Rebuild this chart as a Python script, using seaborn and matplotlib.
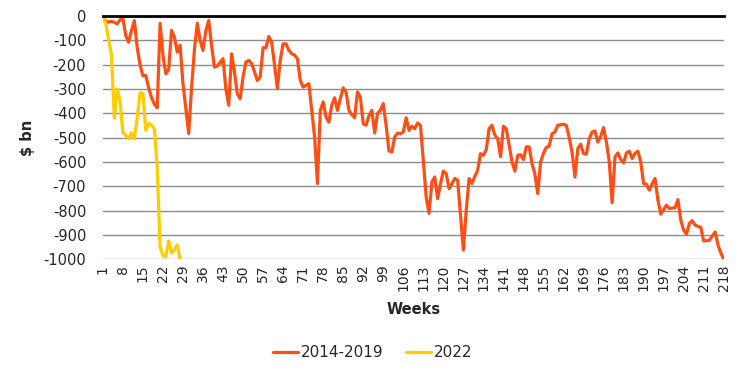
import matplotlib
matplotlib.use("Agg")
import matplotlib.pyplot as plt
import pandas as pd
import seaborn as sns

# ▶️ data ($ bn, by week)
weeks_2022 = list(range(1, 29))
values_2022 = [
    0, -30, -95, -160, -420, -300, -350, -480, -490, -505,
    -480, -505, -420, -315, -318, -470, -442, -448, -463, -620,
    -950, -985, -990, -925, -975, -962, -942, -1000,
]

weeks_base = list(range(1, 219))
values_base = [
    -5, -20, -25, -22, -25, -32, -15, -7, -80, -107,
    -60, -18, -130, -200, -245, -244, -295, -335, -362, -377,
    -30, -160, -237, -220, -59, -86, -148, -120, -278, -380,
    -483, -295, -138, -29, -100, -141, -60, -18, -120, -210,
    -205, -190, -175, -300, -367, -155, -230, -320, -340, -250,
    -189, -182, -195, -230, -265, -250, -130, -130, -84, -107,
    -200, -298, -182, -114, -114, -140, -155, -160, -175, -264,
    -292, -285, -278, -388, -497, -689, -388, -353, -415, -436,
    -367, -336, -388, -340, -295, -312, -388, -405, -418, -312,
    -333, -442, -449, -410, -388, -481, -400, -388, -360, -449,
    -555, -559, -497, -481, -484, -477, -418, -470, -453, -463,
    -440, -449, -593, -744, -812, -682, -662, -751, -690, -638,
    -648, -710, -690, -668, -675, -820, -963, -800, -668, -689,
    -660, -634, -566, -573, -549, -463, -449, -490, -504, -579,
    -453, -463, -530, -600, -638, -573, -570, -590, -538, -538,
    -607, -650, -730, -600, -565, -540, -535, -484, -477, -449,
    -447, -445, -450, -500, -560, -662, -545, -527, -566, -568,
    -504, -477, -473, -518, -495, -459, -518, -600, -768, -579,
    -563, -590, -604, -563, -556, -586, -565, -556, -600, -689,
    -692, -716, -690, -668, -757, -815, -796, -778, -792, -790,
    -788, -755, -840, -881, -897, -853, -842, -860, -865, -870,
    -925, -924, -922, -905, -888, -942, -975, -1000,
]

series_names = ["2014-2019", "2022"]
series_colors = ["#FF4E14", "#FFCC00"]
x_ticks = list(range(1, 219, 7))
y_ticks = list(range(-1000, 1, 100))

df = pd.concat([
    pd.DataFrame({"Week": weeks_base, "Value": values_base, "Series": series_names[0]}),
    pd.DataFrame({"Week": weeks_2022, "Value": values_2022, "Series": series_names[1]}),
])

# ▶️ plot
sns.set_style("white")
plt.rcParams["font.family"] = ["DejaVu Sans"]

fig = plt.figure(figsize=(7.4, 3.75), dpi=100)
ax = fig.add_axes([0.139, 0.309, 0.839, 0.648])

sns.lineplot(data=df, x="Week", y="Value", hue="Series",
             palette=dict(zip(series_names, series_colors)),
             linewidth=2.3, ax=ax)

ax.set_xlim(1, 218)
ax.set_ylim(-1000, 0)
ax.set_xticks(x_ticks)
ax.set_xticklabels([str(t) for t in x_ticks], rotation=90, fontsize=10)
ax.set_yticks(y_ticks)
ax.set_yticklabels([str(t) for t in y_ticks], fontsize=10.5)
ax.tick_params(axis="x", length=0, pad=4)
ax.tick_params(axis="y", length=0, pad=12)
ax.grid(axis="y", color="#8c8c8c", linewidth=1)
ax.set_axisbelow(True)

for side in ["left", "right", "bottom"]:
    ax.spines[side].set_visible(False)
ax.spines["top"].set_visible(True)
ax.spines["top"].set_color("black")
ax.spines["top"].set_linewidth(2)

ax.set_xlabel("Weeks", fontsize=10.5, fontweight="bold", labelpad=8)
ax.set_ylabel("$ bn", fontsize=10.5, fontweight="bold", labelpad=6)

sns.move_legend(ax, "center", bbox_to_anchor=(0.435, -0.385), ncol=2,
                frameon=False, title=None, fontsize=11, handlelength=1.6,
                columnspacing=1.5, handletextpad=0.2)

fig.savefig("out.png", dpi=100)
